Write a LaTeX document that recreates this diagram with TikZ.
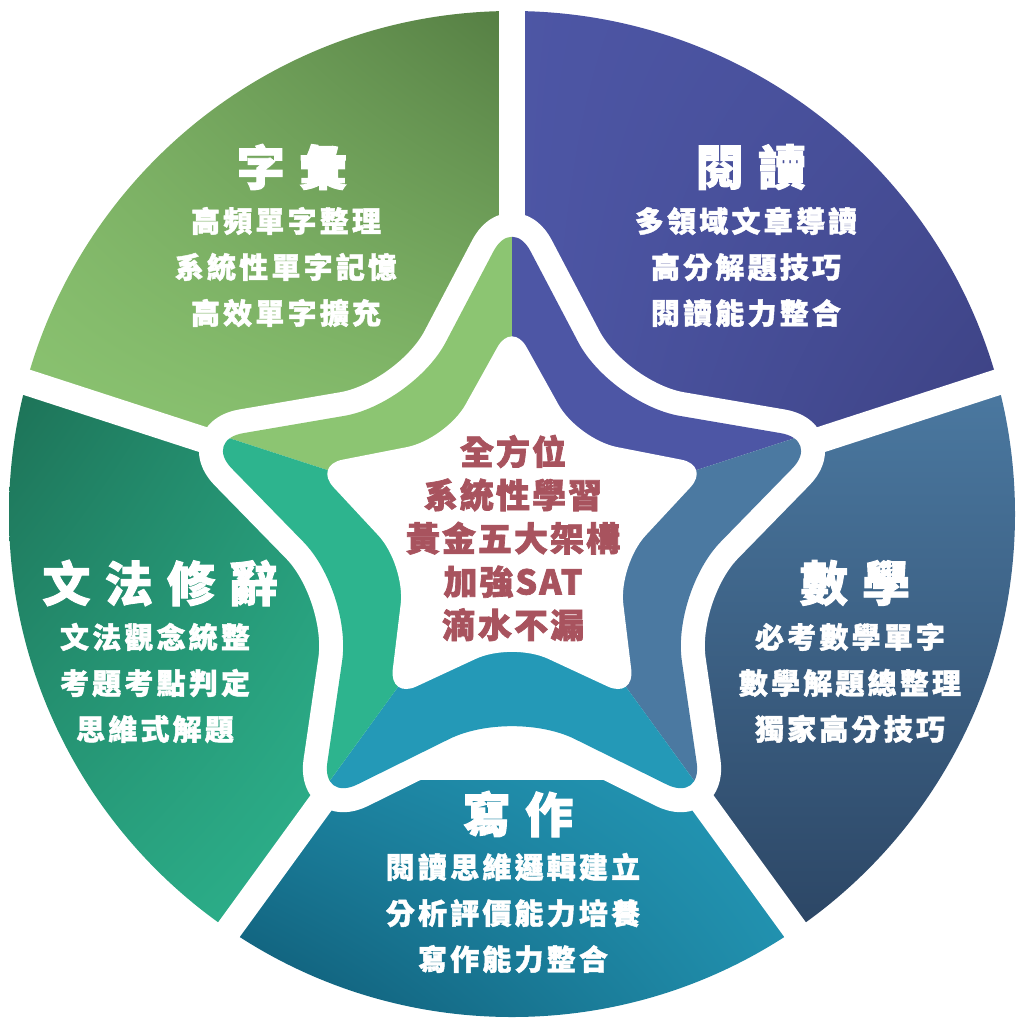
\documentclass[tikz,border=0pt]{standalone}
\usepackage{fontspec}
\newfontfamily\cjk{Noto Sans CJK TC}
\usetikzlibrary{calc,shadings}

\definecolor{vocabA}{HTML}{8CC572}
\definecolor{vocabB}{HTML}{557E43}
\definecolor{readA}{HTML}{4D56A5}
\definecolor{readB}{HTML}{3C4182}
\definecolor{mathA}{HTML}{4B79A1}
\definecolor{mathB}{HTML}{2C4665}
\definecolor{writeA}{HTML}{2499B7}
\definecolor{writeB}{HTML}{0E5873}
\definecolor{gramA}{HTML}{2DB48E}
\definecolor{gramB}{HTML}{1D7257}
\definecolor{coretext}{HTML}{A8535E}

\tikzset{
  gap/.style={white, line width=26pt},
  starpath/.style n args={3}{insert path={($(#1t0)!.5!(#1c0)$) [rounded corners=#3] -- (#1c0)
    [rounded corners=#2] -- (#1t1) [rounded corners=#3] -- (#1c1)
    [rounded corners=#2] -- (#1t2) [rounded corners=#3] -- (#1c2)
    [rounded corners=#2] -- (#1t3) [rounded corners=#3] -- (#1c3)
    [rounded corners=#2] -- (#1t4) [rounded corners=#3] -- (#1c4)
    [rounded corners=#2] -- (#1t0) -- cycle}},
  title/.style={text=white, inner sep=0pt,
    font=\cjk\bfseries\fontsize{48pt}{58pt}\selectfont\addfontfeature{LetterSpace=30,FakeBold=2}},
  item/.style={text=white, inner sep=0pt, align=center,
    font=\cjk\bfseries\fontsize{29pt}{46pt}\selectfont\addfontfeature{LetterSpace=11,FakeBold=1.5}},
  core/.style={text=coretext, inner sep=0pt, align=center,
    font=\cjk\bfseries\fontsize{34pt}{43.3pt}\selectfont\addfontfeature{LetterSpace=6,FakeBold=2}}
}

\begin{document}
\begin{tikzpicture}[x=1pt, y=1pt]
  \useasboundingbox (0,0) rectangle (1024,-1029);
  \coordinate (O) at (512,-514);
  \coordinate (A) at (512,-530);
  \coordinate (B) at (512,-540);
  \coordinate (W) at (512,-530);
  \foreach \n/\a in {0/90,1/18,2/-54,3/-126,4/162}{
    \coordinate (at\n) at ($(A)+(\a:209)$);
    \coordinate (ac\n) at ($(A)+(\a-36:112)$);
    \coordinate (bt\n) at ($(B)+(\a:324)$);
    \coordinate (bc\n) at ($(B)+(\a-36:168)$);
  }

  \begin{scope}
    \clip (O) circle (503pt);
    \begin{scope}
      \clip (B) -- +(90:700) -- +(126:700) -- +(162:700) -- cycle;
      \shade[lower left=vocabA, lower right=vocabA!90!vocabB,
        upper left=vocabA!75!vocabB, upper right=vocabB] (9,-460) rectangle (512,-11);
    \end{scope}
    \begin{scope}
      \clip (B) -- +(18:700) -- +(54:700) -- +(90:700) -- cycle;
      \shade[upper left=readA, upper right=readA!65!readB,
        lower left=readA, lower right=readB] (512,-11) rectangle (1016,-440);
    \end{scope}
    \begin{scope}
      \clip (B) -- +(-54:700) -- +(-18:700) -- +(18:700) -- cycle;
      \shade[top color=mathA, bottom color=mathB] (690,-380) rectangle (1016,-930);
    \end{scope}
    \begin{scope}
      \clip (B) -- +(-126:700) -- +(-90:700) -- +(-54:700) -- cycle;
      \shade[upper right=writeA, lower right=writeA!85!writeB,
        upper left=writeA!60!writeB, lower left=writeB] (230,-780) rectangle (800,-1018);
    \end{scope}
    \begin{scope}
      \clip (B) -- +(162:700) -- +(198:700) -- +(234:700) -- cycle;
      \shade[upper left=gramB, upper right=gramB!40!gramA,
        lower left=gramA!70!gramB, lower right=gramA] (8,-390) rectangle (340,-930);
    \end{scope}
  \end{scope}

  \draw[gap] (B) -- +(90:560);
  \draw[gap] (B) -- +(18:560);
  \draw[gap] (B) -- +(-54:560);
  \draw[gap] (B) -- +(-126:560);
  \draw[gap] (B) -- +(162:560);

  \draw[white, line width=48pt, line join=round, starpath={b}{40pt}{70pt}];
  \begin{scope}
    \clip[starpath={b}{40pt}{70pt}];
    \fill[vocabA] (W) -- +(90:420) -- +(126:420) -- +(162:420) -- cycle;
    \fill[readA] (W) -- +(18:420) -- +(54:420) -- +(90:420) -- cycle;
    \fill[mathA] (W) -- +(-54:420) -- +(-18:420) -- +(18:420) -- cycle;
    \fill[writeA] (W) -- +(-126:420) -- +(-90:420) -- +(-54:420) -- cycle;
    \fill[gramA] (W) -- +(162:420) -- +(198:420) -- +(234:420) -- cycle;
  \end{scope}
  \fill[white, starpath={a}{30pt}{40pt}];

  \node[title] (vocab) at (292,-167) {字彙};
  \node[item] (vocablist) at (286,-267) {高頻單字整理\\系統性單字記憶\\高效單字擴充};
  \node[title] (read) at (751,-167) {閱讀};
  \node[item] (readlist) at (746,-267) {多領域文章導讀\\高分解題技巧\\閱讀能力整合};
  \node[title] (gram) at (160,-583) {文法修辭};
  \node[item] (gramlist) at (155,-683) {文法觀念統整\\考題考點判定\\思維式解題};
  \node[title] (math) at (855,-583) {數學};
  \node[item] (mathlist) at (850,-683) {必考數學單字\\數學解題總整理\\獨家高分技巧};
  \node[title] (write) at (518,-814) {寫作};
  \node[item] (writelist) at (513,-913) {閱讀思維邏輯建立\\分析評價能力培養\\寫作能力整合};
  \node[core] (motto) at (513,-538) {全方位\\系統性學習\\黃金五大架構\\加強SAT\\滴水不漏};
\end{tikzpicture}
\end{document}
